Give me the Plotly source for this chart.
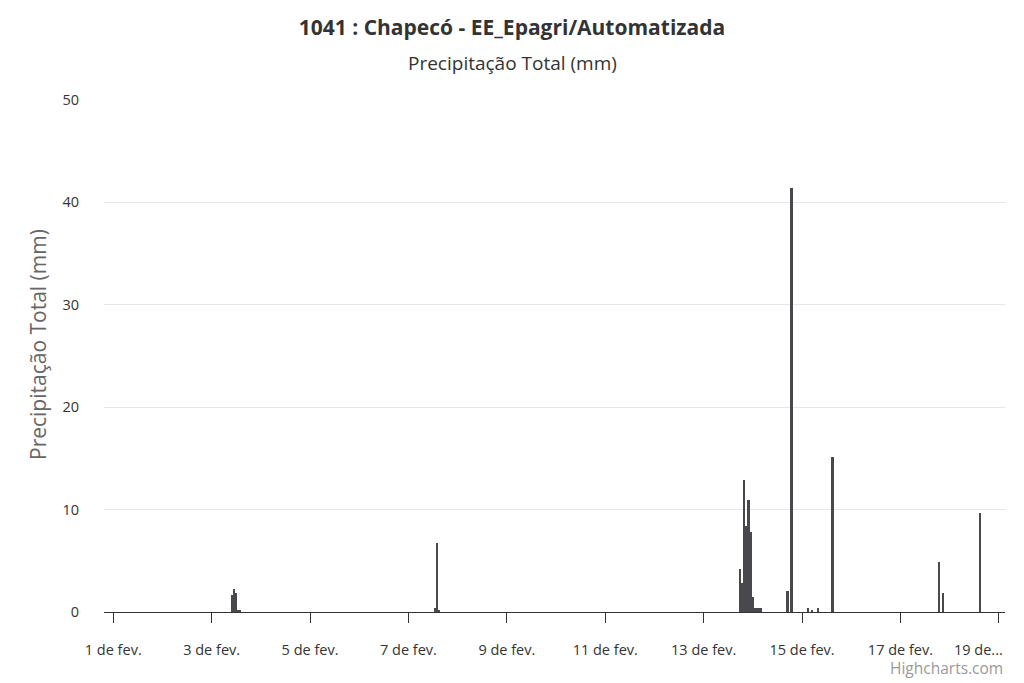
import plotly.graph_objects as go

# Precipitação horária (mm) - somente as horas com chuva registrada
horas = [
    "2023-02-03 10:00", "2023-02-03 11:00", "2023-02-03 12:00", "2023-02-03 13:00", "2023-02-03 14:00",
    "2023-02-07 13:00", "2023-02-07 14:00", "2023-02-07 15:00",
    "2023-02-13 18:00", "2023-02-13 19:00", "2023-02-13 20:00", "2023-02-13 21:00",
    "2023-02-13 22:00", "2023-02-13 23:00", "2023-02-14 00:00", "2023-02-14 01:00",
    "2023-02-14 02:00", "2023-02-14 03:00", "2023-02-14 04:00",
    "2023-02-14 17:00", "2023-02-14 19:00",
    "2023-02-15 03:00", "2023-02-15 05:00", "2023-02-15 08:00", "2023-02-15 15:00",
    "2023-02-17 19:00", "2023-02-17 21:00", "2023-02-18 15:00",
]
precip = [
    1.7, 2.2, 1.9, 0.2, 0.2,
    0.4, 6.7, 0.2,
    4.2, 2.8, 12.9, 8.4,
    10.9, 7.8, 1.5, 0.4,
    0.4, 0.4, 0.4,
    2.1, 41.4,
    0.4, 0.2, 0.4, 15.1,
    4.9, 1.9, 9.7,
]

tick_datas = ["2023-02-01", "2023-02-03", "2023-02-05", "2023-02-07", "2023-02-09",
              "2023-02-11", "2023-02-13", "2023-02-15", "2023-02-17", "2023-02-19"]
tick_textos = ["1 de fev.", "3 de fev.", "5 de fev.", "7 de fev.", "9 de fev.",
               "11 de fev.", "13 de fev.", "15 de fev.", "17 de fev.", "19 de..."]

FONTE = "Open Sans, Noto Sans, sans-serif"
TICK_FONT = dict(size=14.5, color="#333333", family=FONTE)

# a página tem 8px de margem no body, então a figura é um pouco menor
fig = go.Figure()
fig.add_trace(go.Bar(
    x=horas,
    y=precip,
    width=3600000 * 0.8,
    marker=dict(color="#48484d", line=dict(width=0)),
    name="Precipitação Total (mm)",
))

fig.update_layout(
    width=1016,
    height=675,
    margin=dict(l=96, r=19, t=92, b=71, autoexpand=False),
    paper_bgcolor="white",
    plot_bgcolor="white",
    showlegend=False,
    bargap=0,
    font=dict(family=FONTE, color="#333333"),
    title=dict(
        text="<b>1041 : Chapecó - EE_Epagri/Automatizada</b>",
        font=dict(size=21, color="#333333", family=FONTE),
        x=(512 - 8) / 1016, xanchor="center",
        yref="container", y=1 - 20 / 675, yanchor="middle",
    ),
)

# o último rótulo fica truncado e deslocado para a esquerda (como no Highcharts)
fig.update_xaxes(
    type="date",
    range=["2023-01-31 19:30", "2023-02-19 03:00"],
    tickvals=tick_datas,
    ticktext=tick_textos[:-1] + [""],
    tickfont=TICK_FONT,
    ticks="outside",
    ticklen=10,
    tickcolor="#333333",
    ticklabelstandoff=15,
    automargin=False,
    showline=True,
    linecolor="#333333",
    linewidth=1,
    showgrid=False,
    zeroline=False,
    fixedrange=True,
)

fig.update_yaxes(
    range=[0, 50],
    dtick=10,
    tickfont=TICK_FONT,
    ticks="",
    ticklabelstandoff=24,
    automargin=False,
    showgrid=True,
    gridcolor="#e6e6e6",
    gridwidth=1,
    zeroline=False,
    showline=False,
    fixedrange=True,
)

fig.add_annotation(
    text=tick_textos[-1],
    xref="x", yref="paper",
    x=tick_datas[-1], y=-(649 - 612) / 512,
    xanchor="right", yanchor="middle", xshift=6,
    showarrow=False,
    font=TICK_FONT,
)

# subtítulo
fig.add_annotation(
    text="Precipitação Total (mm)",
    xref="paper", yref="paper",
    x=(512 - 104) / 901, y=1 + (100 - 63) / 512,
    xanchor="center", yanchor="middle",
    showarrow=False,
    font=dict(size=19, color="#333333", family=FONTE),
)

# título do eixo y
fig.add_annotation(
    text="Precipitação Total (mm)",
    xref="paper", yref="paper",
    x=(38 - 104) / 901, y=(612 - 345) / 512,
    xanchor="center", yanchor="middle",
    textangle=-90,
    showarrow=False,
    font=dict(size=21, color="#666666", family=FONTE),
)

# créditos
fig.add_annotation(
    text="Highcharts.com",
    xref="paper", yref="paper",
    x=1.0, y=-(668 - 612) / 512,
    xanchor="right", yanchor="middle",
    showarrow=False,
    font=dict(size=15.5, color="#999999", family=FONTE),
)

fig.write_html("out.html")
